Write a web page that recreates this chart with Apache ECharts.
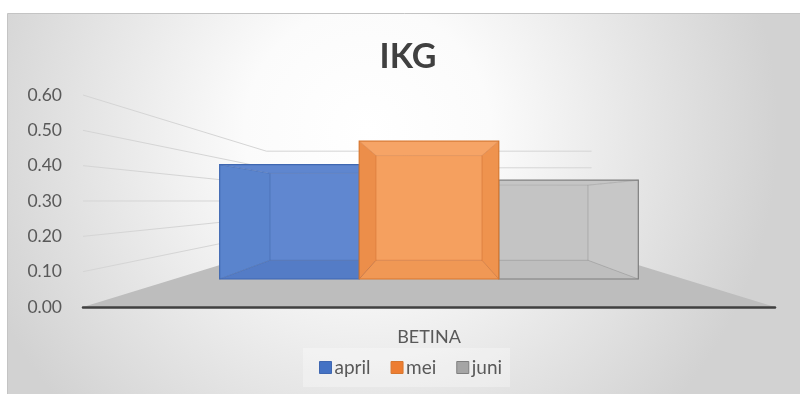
<!DOCTYPE html>
<html>
<head>
<meta charset="utf-8">
<script src="https://cdn.jsdelivr.net/npm/echarts@6/dist/echarts.min.js"></script>
<style>
  html, body { margin: 0; padding: 0; background: #ffffff; }
  #chart { width: 800px; height: 394px; }
</style>
</head>
<body>
<div id="chart"></div>
<script>
// ---- data ----
const categories = ['BETINA'];
const seriesNames = ['april', 'mei', 'juni'];
const aprilValues = [0.44];
const meiValues = [0.53];
const juniValues = [0.38];
const yTickValues = [0, 0.1, 0.2, 0.3, 0.4, 0.5, 0.6];

// ---- 3-D view settings ----
const EYE_LEVEL = 0.3;     // camera height, in axis units
const WALL_DEPTH = 0.47;   // size of the back wall relative to the front plane
const BAR_FRONT = 0.736;   // size of the bar fronts relative to the front plane
const BAR_BACK = 0.559;    // size of the bar backs relative to the front plane
const GROUP_HALF = 0.411;  // half width of the bar group, in band widths

const FONT = 'Lato, "Open Sans", sans-serif';

const boxStyles = {
  april: { back: '#5b84cf', left: '#5580cc', right: '#5a83ce', top: '#5a83ce', bottom: '#4f78c5',
           edge: 'rgba(55,90,160,0.45)', border: '#3f67b1', legend: '#4472c4' },
  mei:   { back: '#f59d5a', left: '#ec8b45', right: '#ef9049', top: '#f6a262', bottom: '#f09550',
           edge: 'rgba(205,105,40,0.45)', border: '#d7772f', legend: '#ed7d31' },
  juni:  { back: '#c3c3c3', left: '#c0c0c0', right: '#c6c6c6', top: '#c4c4c4', bottom: '#bcbcbc',
           edge: 'rgba(120,120,120,0.35)', border: '#7f7f7f', legend: '#a5a5a5' }
};

const seriesValues = { april: aprilValues, mei: meiValues, juni: juniValues };

function viewOf(params, api) {
  const cs = params.coordSys;
  const vx = cs.x + cs.width / 2;
  const vy = api.coord([0, EYE_LEVEL])[1];
  const P = (x, y, s) => [vx + (x - vx) * s, vy + (y - vy) * s];
  return { cs, vx, vy, P };
}

// side wall and back wall gridlines
function renderWalls(params, api) {
  const { cs, P } = viewOf(params, api);
  const y = api.coord([0, api.value(1)])[1];
  const left = cs.x, right = cs.x + cs.width;
  const bl = P(left, y, WALL_DEPTH), br = P(right, y, WALL_DEPTH);
  const ls = { stroke: '#d5d5d5', lineWidth: 1, fill: null };
  return {
    type: 'group',
    children: [
      { type: 'line', shape: { x1: left, y1: y, x2: bl[0], y2: bl[1] }, style: ls },
      { type: 'line', shape: { x1: bl[0], y1: bl[1], x2: br[0], y2: br[1] }, style: ls }
    ]
  };
}

// floor plate
function renderFloor(params, api) {
  const { cs, P } = viewOf(params, api);
  const y = api.coord([0, 0])[1];
  const left = cs.x, right = cs.x + cs.width;
  return {
    type: 'polygon',
    shape: { points: [[left, y], [right, y], P(right, y, WALL_DEPTH), P(left, y, WALL_DEPTH)] },
    style: { fill: '#bdbdbd', stroke: null }
  };
}

// one box per column
function boxRenderer(name) {
  const slot = seriesNames.indexOf(name);
  const st = boxStyles[name];
  return function (params, api) {
    const { P } = viewOf(params, api);
    const cat = api.value(0);
    const band = api.size([1, 0])[0];
    const yBase = api.coord([cat, 0])[1];
    const yTop = api.coord([cat, api.value(1)])[1];
    const centre = api.coord([cat, 0])[0];
    const barW = band * GROUP_HALF * 2 / seriesNames.length;
    const x0 = centre - band * GROUP_HALF + slot * barW;
    const x1 = x0 + barW;
    const F = [P(x0, yTop, BAR_FRONT), P(x1, yTop, BAR_FRONT), P(x1, yBase, BAR_FRONT), P(x0, yBase, BAR_FRONT)];
    const B = [P(x0, yTop, BAR_BACK), P(x1, yTop, BAR_BACK), P(x1, yBase, BAR_BACK), P(x0, yBase, BAR_BACK)];
    const face = (pts, fill) => ({ type: 'polygon', shape: { points: pts }, style: { fill: fill, stroke: null } });
    const edge = (a, b) => ({ type: 'line', shape: { x1: a[0], y1: a[1], x2: b[0], y2: b[1] },
                              style: { stroke: st.edge, lineWidth: 1 } });
    return {
      type: 'group',
      children: [
        face(B, st.back),
        face([F[0], F[1], B[1], B[0]], st.top),
        face([F[3], F[2], B[2], B[3]], st.bottom),
        face([F[0], B[0], B[3], F[3]], st.left),
        face([F[1], B[1], B[2], F[2]], st.right),
        edge(B[0], B[1]), edge(B[1], B[2]), edge(B[2], B[3]), edge(B[3], B[0]),
        edge(F[0], B[0]), edge(F[1], B[1]), edge(F[2], B[2]), edge(F[3], B[3]),
        { type: 'polygon', shape: { points: F },
          style: { fill: 'rgba(255,255,255,0.03)', stroke: st.border, lineWidth: 1.2 } }
      ]
    };
  };
}

const chart = echarts.init(document.getElementById('chart'), null, { renderer: 'canvas' });

const barSeries = seriesNames.map(function (name) {
  return {
    name: name,
    type: 'custom',
    coordinateSystem: 'cartesian2d',
    renderItem: boxRenderer(name),
    encode: { x: 0, y: 1 },
    data: seriesValues[name].map((v, i) => [categories[i], v]),
    itemStyle: { color: boxStyles[name].legend, borderColor: boxStyles[name].border, borderWidth: 1 },
    z: name === 'mei' ? 6 : 5,
    silent: true
  };
});

chart.setOption({
  animation: false,
  backgroundColor: '#ffffff',
  graphic: [{
    type: 'rect',
    z: -10,
    shape: { x: 7.5, y: 13.5, width: 800, height: 390 },
    style: {
      fill: {
        type: 'radial', x: 0.45, y: 0.3, r: 1.05,
        colorStops: [
          { offset: 0, color: '#ffffff' },
          { offset: 0.3, color: '#fbfbfb' },
          { offset: 1, color: '#d2d2d2' }
        ]
      },
      stroke: '#c4c4c4', lineWidth: 1
    },
    silent: true
  }],
  title: {
    text: 'IKG',
    left: 403,
    textAlign: 'center',
    top: 35,
    textStyle: { fontFamily: FONT, fontSize: 34, fontWeight: 'bold', color: '#404040' }
  },
  legend: {
    data: seriesNames.map(n => ({
      name: n,
      itemStyle: { color: boxStyles[n].legend, borderColor: boxStyles[n].border, borderWidth: 1 }
    })),
    left: 303,
    top: 348,
    padding: [10, 8, 10, 16],
    itemWidth: 12,
    itemHeight: 12,
    itemGap: 20,
    icon: 'rect',
    backgroundColor: 'rgba(255,255,255,0.3)',
    textStyle: { fontFamily: FONT, fontSize: 19, color: '#595959', padding: [1, 0, 0, -2] }
  },
  grid: { left: 83, right: 25, top: 95, bottom: 87, containLabel: false },
  xAxis: {
    type: 'category',
    data: categories,
    z: 8,
    axisLine: { show: true, lineStyle: { color: '#404040', width: 2.5 } },
    axisTick: { show: false },
    axisLabel: { margin: 21, fontFamily: FONT, fontSize: 18, color: '#595959' },
    splitLine: { show: false }
  },
  yAxis: {
    type: 'value',
    min: yTickValues[0],
    max: yTickValues[yTickValues.length - 1],
    interval: yTickValues[1] - yTickValues[0],
    axisLine: { show: false },
    axisTick: { show: false },
    splitLine: { show: false },
    axisLabel: {
      margin: 21, fontFamily: FONT, fontSize: 17.5, color: '#595959',
      formatter: v => v.toFixed(2)
    }
  },
  series: [
    {
      name: 'floor',
      type: 'custom',
      coordinateSystem: 'cartesian2d',
      renderItem: renderFloor,
      encode: { x: 0, y: 1 },
      data: [[categories[0], 0]],
      z: 1,
      silent: true
    },
    {
      name: 'walls',
      type: 'custom',
      coordinateSystem: 'cartesian2d',
      renderItem: renderWalls,
      encode: { x: 0, y: 1 },
      data: yTickValues.filter(v => v > 0).map(v => [categories[0], v]),
      z: 1,
      silent: true
    }
  ].concat(barSeries)
});
</script>
</body>
</html>
